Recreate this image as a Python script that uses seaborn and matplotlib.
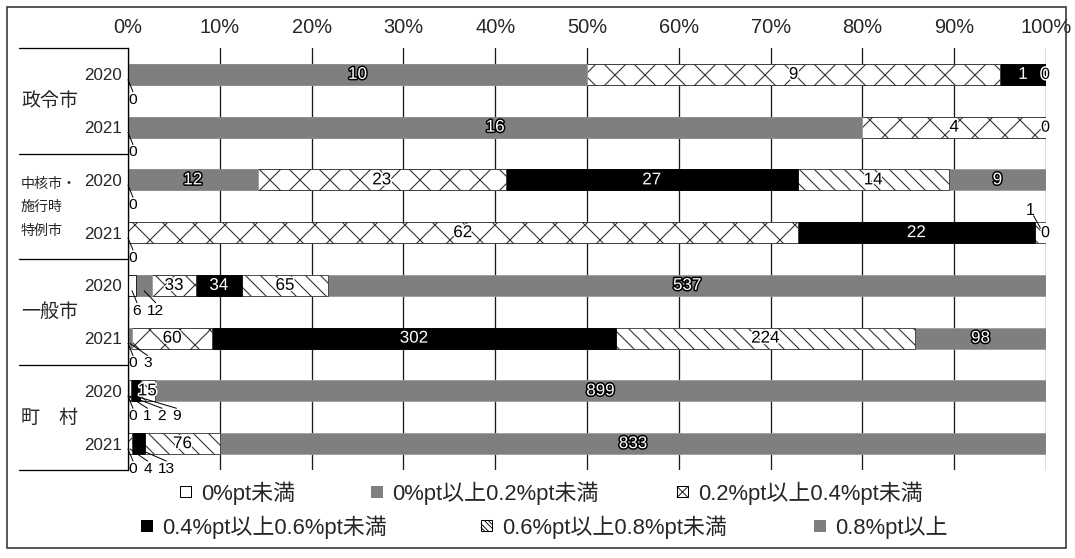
import numpy as np
import pandas as pd
import matplotlib
matplotlib.use("Agg")
import matplotlib.pyplot as plt
import seaborn as sns
from matplotlib import patheffects as pe
from matplotlib.patches import Patch, Rectangle
from matplotlib.lines import Line2D
from matplotlib.legend_handler import HandlerBase
from matplotlib.transforms import blended_transform_factory

# ---------------------------------------------------------------- data
groups = ["政令市", "中核市・\n施行時\n特例市", "一般市", "町　村"]
years = ["2020", "2021"]
series = ["0%pt未満", "0%pt以上0.2%pt未満", "0.2%pt以上0.4%pt未満",
          "0.4%pt以上0.6%pt未満", "0.6%pt以上0.8%pt未満", "0.8%pt以上"]

# number of municipalities per bar, bars ordered group by group, 2020 then 2021
below_0 = [0, 0, 0, 0, 6, 0, 0, 0]
from_0_to_02 = [10, 16, 12, 0, 12, 3, 1, 0]
from_02_to_04 = [9, 4, 23, 62, 33, 60, 2, 4]
from_04_to_06 = [1, 0, 27, 22, 34, 302, 9, 13]
from_06_to_08 = [0, 0, 14, 1, 65, 224, 15, 76]
from_08 = [0, 0, 9, 0, 537, 98, 899, 833]

# where each value label goes: i = inside, b = below the bar, a = above,
# e = at the right end, - = not labelled
label_mode = [
    "b i i i - e",
    "b i i - - e",
    "b i i i i i",
    "b - i i a e",
    "b b i i i i",
    "b b i i i i",
    "b b b b i i",
    "b - b b i i",
]

# ---------------------------------------------------------------- styling
DPI = 180
W, H = 1075, 558


def px(n):
    """pixels -> points at the output resolution"""
    return n * 72.0 / DPI


fills = ["white", "#7f7f7f", "white", "black", "white", "#7f7f7f"]
hatches = [None, None, "xx", None, "\\\\\\\\", None]
edges = ["black", "#9a9a9a", "#333333", "black", "#333333", "#9a9a9a"]
dark = [False, True, False, True, False, True]
legend_marks = ["plain", "plain", "cross", "plain", "diag", "plain"]

sns.set_theme(style="white")
plt.rcParams["font.family"] = ["Liberation Sans", "Noto Sans CJK JP", "DejaVu Sans"]
plt.rcParams["hatch.linewidth"] = px(1.1)

counts = np.array([below_0, from_0_to_02, from_02_to_04,
                   from_04_to_06, from_06_to_08, from_08], dtype=float).T
totals = counts.sum(axis=1, keepdims=True)
pct = counts / totals * 100
cum = np.cumsum(pct, axis=1)
start = cum - pct

bar_ids = [f"{g.splitlines()[0]}|{y}" for g in groups for y in years]
n_bars = len(bar_ids)

fig = plt.figure(figsize=(W / DPI, H / DPI), dpi=DPI)
ax = fig.add_axes([128 / W, 1 - 470 / H, 918 / W, 422 / H])

# stacked bars: draw cumulative totals from the last series back to the first
for k in reversed(range(len(series))):
    frame = pd.DataFrame({"bar": bar_ids, "end": cum[:, k]})
    n0 = len(ax.patches)
    sns.barplot(data=frame, x="end", y="bar", orient="h", order=bar_ids,
                color=fills[k], saturation=1, width=0.4, errorbar=None, ax=ax)
    for p in ax.patches[n0:]:
        p.set_edgecolor(edges[k])
        p.set_linewidth(px(0.8))
        if hatches[k]:
            p.set_hatch(hatches[k])
        p.set_zorder(2)

ax.set_xlim(0, 100)
ax.set_ylim(n_bars - 0.5, -0.5)
ax.set_xlabel("")
ax.set_ylabel("")

# axis: percentages on top, years on the left
ax.xaxis.tick_top()
ax.set_xticks(np.arange(0, 101, 10))
ax.set_xticklabels([f"{v}%" for v in range(0, 101, 10)], fontsize=px(20))
ax.set_yticks(range(n_bars))
ax.set_yticklabels([y for _ in groups for y in years], fontsize=px(17))
ax.tick_params(axis="x", length=0, pad=px(11))
ax.tick_params(axis="y", length=0, pad=px(6))
ax.grid(axis="x", color="#1a1a1a", linewidth=px(1.3))
ax.grid(axis="y", visible=False)
ax.set_axisbelow(True)
for side in ["top", "right", "bottom"]:
    ax.spines[side].set_visible(False)
ax.spines["left"].set_color("black")
ax.spines["left"].set_linewidth(px(1.3))
ax.spines["left"].set_zorder(5)

# row-header table on the left
tr = blended_transform_factory(ax.transAxes, ax.transData)
x_tab = (19 - 128) / 918
for yb in np.arange(-0.5, n_bars, 2):
    ax.plot([x_tab, 0], [yb, yb], transform=tr, color="black",
            linewidth=px(1.3), clip_on=False)
x_grp = (21 - 128) / 918
for gi, g in enumerate(groups):
    yc = gi * 2 + 0.5
    if "\n" in g:
        ax.text(x_grp, yc + 0.02, g, transform=tr, ha="left", va="center",
                fontsize=px(14), linespacing=1.85, family="Noto Sans CJK JP")
    else:
        ax.text(x_grp, yc, g, transform=tr, ha="left", va="center",
                fontsize=px(19), family="Noto Sans CJK JP")

# ---------------------------------------------------------------- value labels
unit = 100 / 918  # one pixel in data units along x
halo_dark = [pe.Stroke(linewidth=px(3), foreground="black"), pe.Normal()]
halo_light = [pe.Stroke(linewidth=px(3), foreground="white"), pe.Normal()]

for i in range(n_bars):
    modes = label_mode[i].split()
    below = []
    for k, m in enumerate(modes):
        txt = str(int(counts[i, k]))
        mid = (start[i, k] + cum[i, k]) / 2
        if m == "i":
            ax.text(mid, i, txt, ha="center", va="center", fontsize=px(17),
                    color="white" if dark[k] else "black",
                    path_effects=halo_dark if dark[k] else halo_light, zorder=6)
        elif m == "e":
            ax.text(100 - 0.5 * unit, i, txt, ha="center", va="center",
                    fontsize=px(16), color="black", path_effects=halo_light,
                    zorder=6, clip_on=False)
        elif m == "a":
            xl = mid - 10 * unit
            ax.plot([xl + 3 * unit, mid], [i - 0.32, i - 0.08], color="black",
                    linewidth=px(1), zorder=6, clip_on=False)
            ax.text(xl, i - 0.42, txt, ha="center", va="center",
                    fontsize=px(16), color="black", zorder=6)
        elif m == "b":
            below.append((mid, txt))
    prev_c, prev_w = -1e9, 0.0
    for mid, txt in below:
        w = len(txt) * 8.5
        c = max(mid / unit + 5, prev_c + prev_w / 2 + 6 + w / 2)
        ax.plot([mid, c * unit], [i + 0.1, i + 0.33], color="black",
                linewidth=px(1), zorder=6, clip_on=False)
        ax.text(c * unit, i + 0.48, txt, ha="center", va="center",
                fontsize=px(15.5), color="black", zorder=6, clip_on=False)
        prev_c, prev_w = c, w


# ---------------------------------------------------------------- legend
class BoxKey(HandlerBase):
    """Small square key, optionally with an X or diagonal stripes."""

    def __init__(self, mark):
        super().__init__()
        self.mark = mark

    def create_artists(self, legend, orig_handle, xdescent, ydescent,
                       width, height, fontsize, trans):
        s = min(width, height)
        x0 = -xdescent + (width - s) / 2
        y0 = -ydescent + (height - s) / 2
        fc = orig_handle.get_facecolor()
        ec = orig_handle.get_edgecolor()
        arts = [Rectangle((x0, y0), s, s, facecolor=fc, edgecolor=ec,
                          linewidth=px(1), transform=trans)]
        if self.mark == "cross":
            arts.append(Line2D([x0, x0 + s], [y0, y0 + s], color="black",
                               linewidth=px(0.9), transform=trans))
            arts.append(Line2D([x0, x0 + s], [y0 + s, y0], color="black",
                               linewidth=px(0.9), transform=trans))
        elif self.mark == "diag":
            for t in (0.3, 0.65):
                arts.append(Line2D([x0, x0 + s * (1 - t)], [y0 + s * (1 - t), y0],
                                   color="black", linewidth=px(0.9),
                                   transform=trans))
                arts.append(Line2D([x0 + s * t, x0 + s], [y0 + s, y0 + s * t],
                                   color="black", linewidth=px(0.9),
                                   transform=trans))
        return arts


legend_slots = [(180, 493), (371, 493), (677, 493),
                (141, 527), (481, 527), (814, 527)]
for k, (lx, ly) in enumerate(legend_slots):
    handle = Patch(facecolor=fills[k],
                   edgecolor="black" if fills[k] != "#7f7f7f" else fills[k])
    fig.legend(handles=[handle], labels=[series[k]], loc="center left",
               bbox_to_anchor=(lx / W, 1 - ly / H), frameon=False,
               fontsize=px(22), handlelength=0.5, handleheight=0.5,
               handletextpad=0.45, borderpad=0, borderaxespad=0,
               handler_map={Patch: BoxKey(legend_marks[k])})

# outer frame
fig.add_artist(Rectangle((7 / W, 10 / H), 1059 / W, 541 / H,
                         transform=fig.transFigure, fill=False,
                         edgecolor="#333333", linewidth=px(1.6)))

fig.savefig("out.png", dpi=DPI, facecolor="white")
